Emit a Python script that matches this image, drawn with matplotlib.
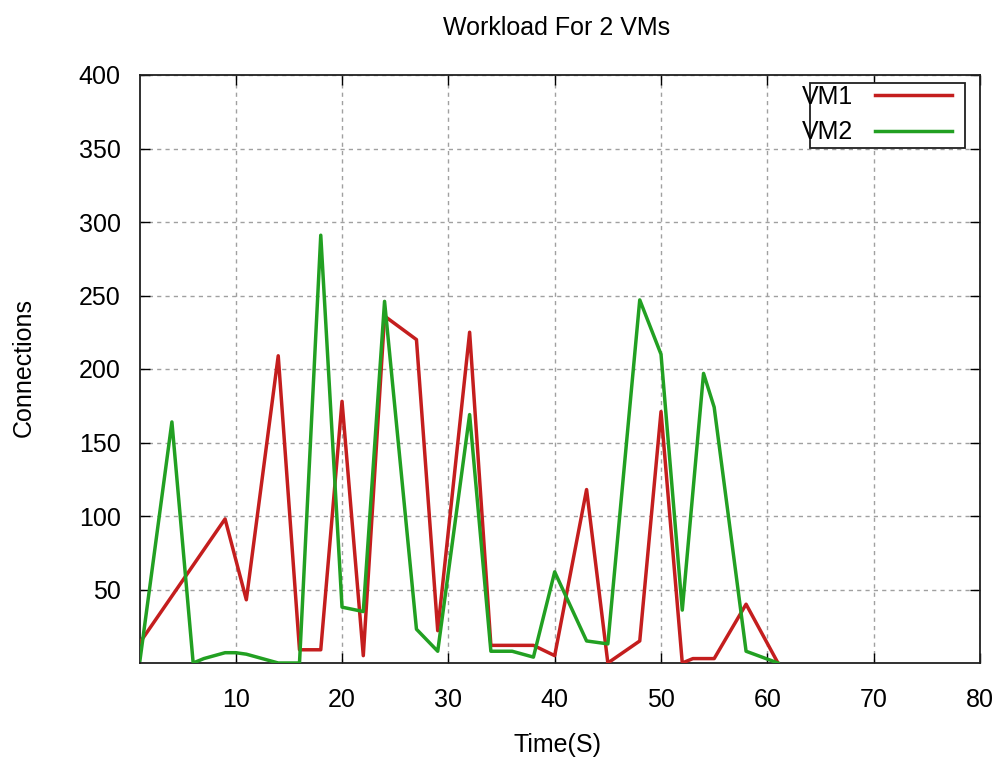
import matplotlib
matplotlib.use("Agg")
import matplotlib.pyplot as plt
from matplotlib.patches import Rectangle

plt.rcParams['font.family'] = ['Liberation Sans', 'DejaVu Sans']

title = "Workload For 2 VMs"
xlabel = "Time(S)"
ylabel = "Connections"

vm1_x = [1, 9, 11, 14, 16, 18, 20, 22, 24, 27, 29, 32, 34, 38, 40, 43, 45, 48, 50, 52, 53, 55, 58, 61]
vm1_y = [14, 98, 43, 209, 9, 9, 178, 5, 236, 220, 22, 225, 12, 12, 5, 118, 0, 15, 171, 0, 3, 3, 40, 0]

vm2_x = [1, 4, 6, 7, 8, 9, 10, 11, 12, 13, 14, 16, 18, 20, 22, 24, 27, 29, 32, 34, 36, 38, 40, 43, 45, 48, 50, 52, 54, 55, 58, 61]
vm2_y = [2, 164, 0, 3, 5, 7, 7, 6, 4, 2, 0, 0, 291, 38, 35, 246, 23, 8, 169, 8, 8, 4, 62, 15, 13, 247, 210, 36, 197, 174, 8, 0]

xticks = [10, 20, 30, 40, 50, 60, 70, 80]
yticks = [50, 100, 150, 200, 250, 300, 350, 400]

W, H = 996, 758
fig = plt.figure(figsize=(W / 100, H / 100), dpi=100)
L, R, T, B = 140, 980, 75, 663
ax = fig.add_axes([L / W, 1 - B / H, (R - L) / W, (B - T) / H])

red = '#c41e1e'
green = '#22a022'
ax.plot(vm1_x, vm1_y, color=red, lw=2.5, label='VM1', zorder=3)
ax.plot(vm2_x, vm2_y, color=green, lw=2.5, label='VM2', zorder=3)

ax.set_xlim(1, 80)
ax.set_ylim(0, 400)
ax.set_xticks(xticks)
ax.set_yticks(yticks)
ax.tick_params(direction='in', length=7, width=1, top=True, right=True,
               labelsize=18, pad=14, colors='black')
ax.tick_params(axis='x', pad=18)
ax.grid(True, color='#a0a0a0', linestyle=(0, (3, 3)), lw=1)
for s in ax.spines.values():
    s.set_linewidth(1.3)
    s.set_color('#202020')

fig.text(557 / W, 1 - 28 / H, title, ha='center', va='center', fontsize=18)
fig.text(557 / W, 1 - 745 / H, xlabel, ha='center', va='center', fontsize=18)
fig.text(24 / W, 1 - 368 / H, ylabel, ha='center', va='center', fontsize=18, rotation=90)

# legend box
bx0, by0, bx1, by1 = 810, 83, 965, 148
ax.add_patch(Rectangle(((bx0 - L) / (R - L), (B - by1) / (B - T)),
                       (bx1 - bx0) / (R - L), (by1 - by0) / (B - T),
                       transform=ax.transAxes, fill=True, facecolor='white',
                       edgecolor='#202020', lw=1.3, zorder=4))
leg = ax.legend(loc='upper right', bbox_to_anchor=((952 - L) / (R - L), (B - 85) / (B - T)),
                frameon=False, markerfirst=False, fontsize=18, handlelength=3.1,
                handletextpad=0.85, labelspacing=0.45, borderpad=0.0, borderaxespad=0.0)
leg.set_zorder(5)

fig.savefig('out.png', dpi=100)
